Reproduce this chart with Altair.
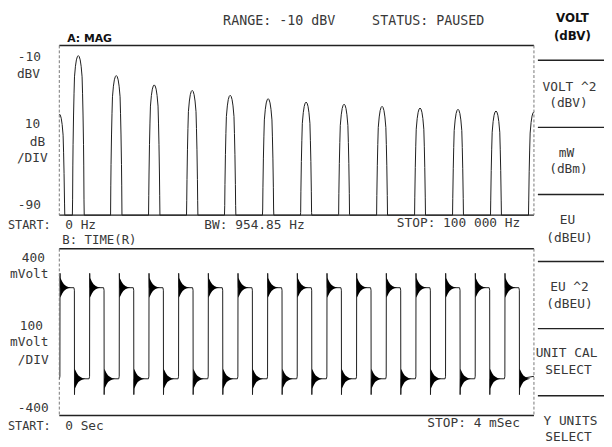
import altair as alt
import pandas as pd

# ---------------- data ----------------
# Trace A: MAG  (spectrum, dBV vs kHz)
peak_freq_khz = [0, 4, 12, 20, 28, 36, 44, 52, 60, 68, 76, 84, 92, 100]
peak_level_dbv = [-42.3, -14.8, -24.2, -28.6, -31.2, -33.5, -35.1, -36.7,
                  -37.7, -38.7, -39.5, -40.1, -40.9, -41.3]
lobe_offset_khz = [0.0, 0.2, 0.4, 0.6, 0.8, 0.9, 1.0, 1.1, 1.15, 1.2, 1.25]
lobe_drop_db = [0.0, 0.5, 2.0, 5.0, 10, 18, 28, 42, 52, 68, 100]
freq_span_khz = [0, 100]
db_span = [-90, -10]

# Trace B: TIME(R)  (square wave, mV vs ms)
rise_ms = [0.006, 0.256, 0.506, 0.756, 1.006, 1.256, 1.506, 1.756,
           2.006, 2.256, 2.506, 2.756, 3.006, 3.256, 3.506, 3.756]
fall_ms = [0.128, 0.378, 0.628, 0.878, 1.128, 1.378, 1.628, 1.878,
           2.128, 2.378, 2.628, 2.878, 3.128, 3.378, 3.628, 3.878]
high_mv = 213
low_mv = -224
overshoot_mv = 282
undershoot_mv = -300
pre_edge_mv = 12
ring_offset_ms = [0.0, 0.008, 0.018, 0.032, 0.05, 0.068, 0.09]
ring_half_mv = [48, 40, 28, 16, 8, 3, 0]
time_span_ms = [0, 4]
mv_span = [-400, 400]

# texts
top_texts = ["RANGE: -10 dBV", "STATUS: PAUSED"]
bold_texts = ["A: MAG", "VOLT", "(dBV)"]
axis_texts = ["-10", "dBV", "10", "dB", "/DIV", "-90",
              "START:", "0 Hz", "BW: 954.85 Hz", "STOP: 100 000 Hz",
              "B: TIME(R)", "400", "mVolt", "100", "mVolt", "/DIV", "-400",
              "START:", "0 Sec", "STOP: 4 mSec"]
menu_texts = ["VOLT ^2", "(dBV)", "mW", "(dBm)", "EU", "(dBEU)", "EU ^2", "(dBEU)",
              "UNIT CAL", "SELECT", "Y UNITS", "SELECT"]

# ---------------- layout (page pixels) ----------------
O = 8  # page margin
top_pos = [(226, 18), (377, 18)]
bold_pos = [(68, 37), (580, 15), (580, 33)]
axis_pos = [(18, 55), (17, 72), (25, 123), (30, 141), (17, 157), (18, 205),
            (8, 225), (66, 225), (207, 225), (402, 223),
            (63, 240), (22, 258), (10, 275), (20, 327), (10, 344), (18, 362), (18, 410),
            (8, 429), (66, 429), (433, 426)]
axis_size = [13, 13, 13, 13, 13, 13,
             12, 13, 13, 13,
             12.5, 13, 13, 13, 13, 13, 13,
             12, 13, 13]
menu_pos = [(577, 85), (576, 101), (574, 152), (576, 168), (575, 220), (577, 238),
            (577, 288), (577, 305), (574, 355), (576, 372), (578, 424), (576, 440)]
PX0, PX1 = 60, 541
A_TOP, A_BOT = 43, 215
B_TOP, B_BOT = 249, 418
menu_lines_y = [58, 126, 194, 262, 330, 398]

# ---------------- build tables ----------------
spec_rows = []
for f0, lvl in zip(peak_freq_khz, peak_level_dbv):
    seq = [(-o, d) for o, d in zip(lobe_offset_khz[::-1], lobe_drop_db[::-1])] + \
          [(o, d) for o, d in zip(lobe_offset_khz[1:], lobe_drop_db[1:])]
    for o, d in seq:
        f = f0 + o
        if freq_span_khz[0] <= f <= freq_span_khz[1]:
            spec_rows.append((f, max(lvl - d, db_span[0])))
spec_df = pd.DataFrame(spec_rows, columns=["f", "db"])
spec_df["i"] = range(len(spec_df))

trace = [(0.0, low_mv)]
for r, fa in zip(rise_ms, fall_ms):
    trace += [(r - 0.005, low_mv), (r - 0.001, low_mv + pre_edge_mv), (r, overshoot_mv),
              (r + 0.003, high_mv),
              (fa - 0.005, high_mv), (fa - 0.001, high_mv - pre_edge_mv), (fa, undershoot_mv),
              (fa + 0.003, low_mv)]
trace.append((4.0, low_mv + pre_edge_mv))
time_df = pd.DataFrame(trace, columns=["t", "mv"])
time_df["i"] = range(len(time_df))

ring_rows = []
eid = 0
for edges, lvl in ((rise_ms, high_mv), (fall_ms, low_mv)):
    for e in edges:
        for o, h in zip(ring_offset_ms, ring_half_mv):
            ring_rows.append((e + o + 0.001, lvl + h, lvl - h, eid))
        eid += 1
ring_df = pd.DataFrame(ring_rows, columns=["t", "hi", "lo", "edge"])

xr = [PX0 - O, PX1 - O]
fx = alt.Scale(domain=freq_span_khz, range=xr, nice=False, zero=False)
fy = alt.Scale(domain=db_span, range=[A_BOT - O, A_TOP - O], nice=False, zero=False, clamp=True)
tx = alt.Scale(domain=time_span_ms, range=xr, nice=False, zero=False)
ty = alt.Scale(domain=mv_span, range=[B_BOT - O, B_TOP - O], nice=False, zero=False)

INK = "#1c1c1c"
spec_line = alt.Chart(spec_df).mark_line(color=INK, strokeWidth=1).encode(
    x=alt.X("f:Q", scale=fx, axis=None),
    y=alt.Y("db:Q", scale=fy, axis=None),
    order="i:Q")
time_line = alt.Chart(time_df).mark_line(color=INK, strokeWidth=1).encode(
    x=alt.X("t:Q", scale=tx, axis=None),
    y=alt.Y("mv:Q", scale=ty, axis=None),
    order="i:Q")
ring_area = alt.Chart(ring_df).mark_area(color="#000000", opacity=1).encode(
    x=alt.X("t:Q", scale=tx, axis=None),
    y=alt.Y("hi:Q", scale=ty, axis=None),
    y2="lo:Q",
    detail="edge:N")

# frames
solid = []
dashed = []
for top, bot in ((A_TOP, A_BOT), (B_TOP, B_BOT)):
    solid += [(PX0, PX1, top, top), (PX0, PX1, bot, bot)]
    dashed += [(PX0, PX0, top, bot), (PX1, PX1, top, bot)]
menu_rules = [(545, 612, y, y) for y in menu_lines_y]


def rule_df(rows):
    return pd.DataFrame([(a - O, b - O, c - O, d - O) for a, b, c, d in rows],
                        columns=["x", "x2", "y", "y2"])


def rule_layer(rows, **kw):
    return alt.Chart(rule_df(rows)).mark_rule(**kw).encode(
        x=alt.X("x:Q", scale=None), x2="x2:Q",
        y=alt.Y("y:Q", scale=None), y2="y2:Q")


solid_layer = rule_layer(solid, color="#222222", strokeWidth=1.4)
dashed_layer = rule_layer(dashed, color="#777777", strokeWidth=1, strokeDash=[3, 2])
menu_layer = rule_layer(menu_rules, color="#222222", strokeWidth=1.4)


def text_layer(texts, pos, align, font, size, weight, color, sizes=None):
    df = pd.DataFrame({"text": texts,
                       "x": [p[0] - O for p in pos],
                       "y": [p[1] - O for p in pos],
                       "s": sizes if sizes is not None else [size] * len(texts)})
    return alt.Chart(df).mark_text(align=align, baseline="middle", font=font,
                                   fontWeight=weight, color=color).encode(
        x=alt.X("x:Q", scale=None), y=alt.Y("y:Q", scale=None), text="text:N",
        size=alt.Size("s:Q", scale=None, legend=None))


MONO = "DejaVu Sans Mono"
TXT = "#383838"
t_top = text_layer(top_texts, top_pos, "left", MONO, 13.5, "normal", TXT)
t_axis = text_layer(axis_texts, axis_pos, "left", MONO, 13, "normal", TXT, axis_size)
t_menu = text_layer(menu_texts, menu_pos, "center", MONO, 13, "normal", TXT)
t_bold_l = text_layer(bold_texts[:1], bold_pos[:1], "left",
                      "DejaVu Sans", 11, "bold", "#111111")
t_bold_c = text_layer(bold_texts[1:], bold_pos[1:], "center",
                      "DejaVu Sans", 12, "bold", "#111111")

chart = alt.layer(
    spec_line, time_line, ring_area,
    solid_layer, dashed_layer, menu_layer,
    t_top, t_axis, t_menu, t_bold_l, t_bold_c
).resolve_scale(x="independent", y="independent").properties(
    width=604, height=439,
    autosize=alt.AutoSizeParams(type="none"),
    padding=0,
    background="white",
).configure_view(stroke=None)

chart.save("out.html", embed_options={"renderer": "svg", "actions": False})
